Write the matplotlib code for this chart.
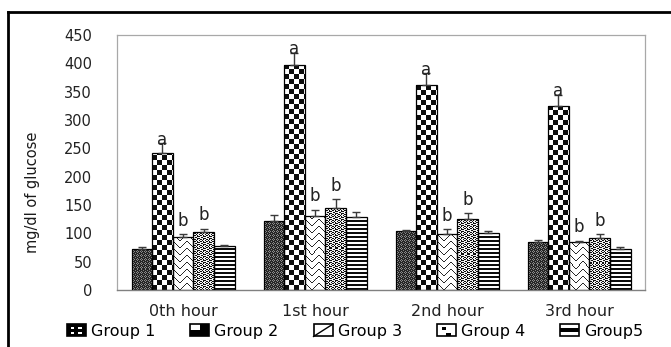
import numpy as np
import matplotlib
matplotlib.use("Agg")
import matplotlib.pyplot as plt
from matplotlib.patches import Rectangle
from matplotlib.lines import Line2D
from matplotlib.legend_handler import HandlerBase

plt.rcParams['font.family'] = ['DejaVu Sans']

# ---- data -------------------------------------------------------------
hours = ['0th hour', '1st hour', '2nd hour', '3rd hour']
groups = ['Group 1', 'Group 2', 'Group 3', 'Group 4', 'Group5']

g1 = [73, 122, 104, 85]
g2 = [241, 397, 361, 324]
g3 = [93, 131, 98, 85]
g4 = [102, 145, 126, 92]
g5 = [77, 128, 100, 72]

e1 = [2, 10, 2, 3]
e2 = [18, 21, 21, 20]
e3 = [5, 11, 9, 2]
e4 = [6, 15, 9, 6]
e5 = [2, 10, 4, 3]

sig2 = ['a', 'a', 'a', 'a']
sig3 = ['b', 'b', 'b', 'b']
sig4 = ['b', 'b', 'b', 'b']

yticks = [0, 50, 100, 150, 200, 250, 300, 350, 400, 450]

# ---- fill textures (grayscale tiles, 0 = black, 1 = white) ------------
def checker(n):
    t = np.ones((2 * n, 2 * n))
    t[:n, :n] = 0.05
    t[n:, n:] = 0.05
    return t

def zigzag(w, h):
    t = np.ones((h, w))
    for x in range(w):
        y = int(round(abs(x - (w - 1) / 2) * (h - 1) / ((w - 1) / 2)))
        t[y % h, x] = 0.15
    return t

tex_g1 = np.array([[0.15, 0.55, 0.15, 0.15],
                   [0.55, 0.15, 0.55, 0.15],
                   [0.15, 0.55, 0.15, 0.15],
                   [0.15, 0.15, 0.15, 0.50]])
tex_g2 = checker(5)
tex_g3 = zigzag(14, 7)
tex_g4 = np.array([[1, 0, 0, 1, 0, 1],
                   [0, 1, 1, 0, 1, 1],
                   [1, 0, 0, 1, 0, 1],
                   [0, 1, 1, 1, 0, 0],
                   [1, 1, 0, 0, 1, 1],
                   [0, 1, 1, 1, 0, 0]], dtype=float) * 0.9 + 0.05
tex_g5 = np.array([[0.05], [0.05], [1.0], [1.0]])

series = [g1, g2, g3, g4, g5]
errors = [e1, e2, e3, e4, e5]
textures = [tex_g1, tex_g2, tex_g3, tex_g4, tex_g5]

# ---- figure -----------------------------------------------------------
fig = plt.figure(figsize=(6.71, 3.47), dpi=100)
ax = fig.add_axes([0.1744, 0.1643, 0.787, 0.735])

n = len(groups)
bw = 0.156
x = np.arange(len(hours))
ax.set_xlim(-0.5, len(hours) - 0.5)
ax.set_ylim(0, 450)

fig.canvas.draw()
pxx = ax.bbox.width / (ax.get_xlim()[1] - ax.get_xlim()[0])
pxy = ax.bbox.height / (ax.get_ylim()[1] - ax.get_ylim()[0])


def fill_texture(bar, tile):
    x0, y0 = bar.get_x(), bar.get_y()
    w, h = bar.get_width(), bar.get_height()
    cols = max(1, int(round(w * pxx)))
    rows = max(1, int(round(h * pxy)))
    reps = (rows // tile.shape[0] + 2, cols // tile.shape[1] + 2)
    img = np.tile(tile, reps)[:rows, :cols]
    im = ax.imshow(img, extent=(x0, x0 + w, y0, y0 + h), origin='lower',
                   cmap='gray', vmin=0, vmax=1, interpolation='nearest',
                   aspect='auto', zorder=2.5)
    im.set_clip_path(bar)


for i, (vals, errs, tile) in enumerate(zip(series, errors, textures)):
    pos = x + (i - (n - 1) / 2) * bw
    bars = ax.bar(pos, vals, width=bw, facecolor='none', edgecolor='black',
                  linewidth=0.9, zorder=3)
    for b in bars:
        fill_texture(b, tile)
    ax.errorbar(pos, vals, yerr=[np.zeros(len(vals)), errs], fmt='none',
                ecolor='#3a3a3a', elinewidth=1.0, capsize=2.6, capthick=1.0,
                zorder=4)

ax.set_xlim(-0.5, len(hours) - 0.5)
ax.set_ylim(0, 450)

# significance letters above the error bars
def letters(idx, vals, errs, labs, lift):
    pos = x + (idx - (n - 1) / 2) * bw
    for p, v, e, s in zip(pos, vals, errs, labs):
        ax.annotate(s, (p, v + e), xytext=(0, lift), textcoords='offset points',
                    ha='center', va='baseline', fontsize=12, color='#222222',
                    zorder=5)

letters(1, g2, e2, sig2, -1)
letters(2, g3, e3, sig3, 6)
letters(3, g4, e4, sig4, 6)

# axes styling
ax.set_yticks(yticks)
ax.set_xticks(x)
ax.set_xticklabels(hours, fontsize=11.5, color='#222222')
ax.tick_params(axis='y', length=0, pad=18, labelsize=10.5, labelcolor='#222222')
ax.tick_params(axis='x', length=0, pad=10)
for side in ['top', 'right', 'left']:
    ax.spines[side].set_color('#a8a8a8')
    ax.spines[side].set_linewidth(0.9)
ax.spines['bottom'].set_color('#808080')
ax.spines['bottom'].set_linewidth(1.0)

fig.text(0.048, 0.447, 'mg/dl of glucose', rotation=90, ha='center',
         va='center', fontsize=10.5, color='#1a1a1a')


# ---- legend with small pattern swatches -------------------------------
class SwatchHandler(HandlerBase):
    def __init__(self, grid, diag=False):
        super().__init__()
        self.grid = np.asarray(grid)
        self.diag = diag

    def create_artists(self, legend, orig_handle, xdescent, ydescent,
                       width, height, fontsize, trans):
        x0, y0 = -xdescent, -ydescent
        w, h = width, height
        rows, cols = self.grid.shape
        cw, ch = w / cols, h / rows
        arts = [Rectangle((x0, y0), w, h, facecolor='white', edgecolor='none',
                          transform=trans)]
        for r in range(rows):
            for c in range(cols):
                if self.grid[r, c] == 0:
                    arts.append(Rectangle((x0 + c * cw, y0 + h - (r + 1) * ch),
                                          cw, ch, facecolor='black',
                                          edgecolor='none', transform=trans))
        if self.diag:
            arts.append(Line2D([x0, x0 + w], [y0, y0 + h], color='black',
                               lw=1.0, transform=trans))
        arts.append(Rectangle((x0, y0), w, h, facecolor='none',
                              edgecolor='black', lw=1.2, transform=trans))
        return arts


swatches = [
    SwatchHandler([[0, 0, 0, 0, 0], [0, 1, 0, 1, 0], [0, 0, 0, 0, 0],
                   [0, 1, 0, 1, 0], [0, 0, 0, 0, 0]]),
    SwatchHandler([[1, 0], [0, 0]]),
    SwatchHandler([[1]], diag=True),
    SwatchHandler([[1, 1, 1, 1], [1, 0, 1, 1], [1, 1, 1, 1], [1, 1, 0, 1]]),
    SwatchHandler([[1], [0], [1]]),
]
proxies = [Rectangle((0, 0), 1, 1) for _ in groups]
fig.legend(proxies, groups, handler_map=dict(zip(proxies, swatches)),
           loc='center', bbox_to_anchor=(0.529, 0.045), ncol=5, frameon=False,
           fontsize=11.5, handlelength=1.2, handleheight=0.8,
           handletextpad=0.3, columnspacing=2.2, borderaxespad=0)

# black outer frame (left and top edges)
fig.add_artist(Line2D([0.0116, 0.0116], [0.0, 0.966], color='black', lw=2,
                      transform=fig.transFigure))
fig.add_artist(Line2D([0.0116, 1.0], [0.966, 0.966], color='black', lw=2,
                      transform=fig.transFigure))

fig.savefig('out.png', dpi=100)
